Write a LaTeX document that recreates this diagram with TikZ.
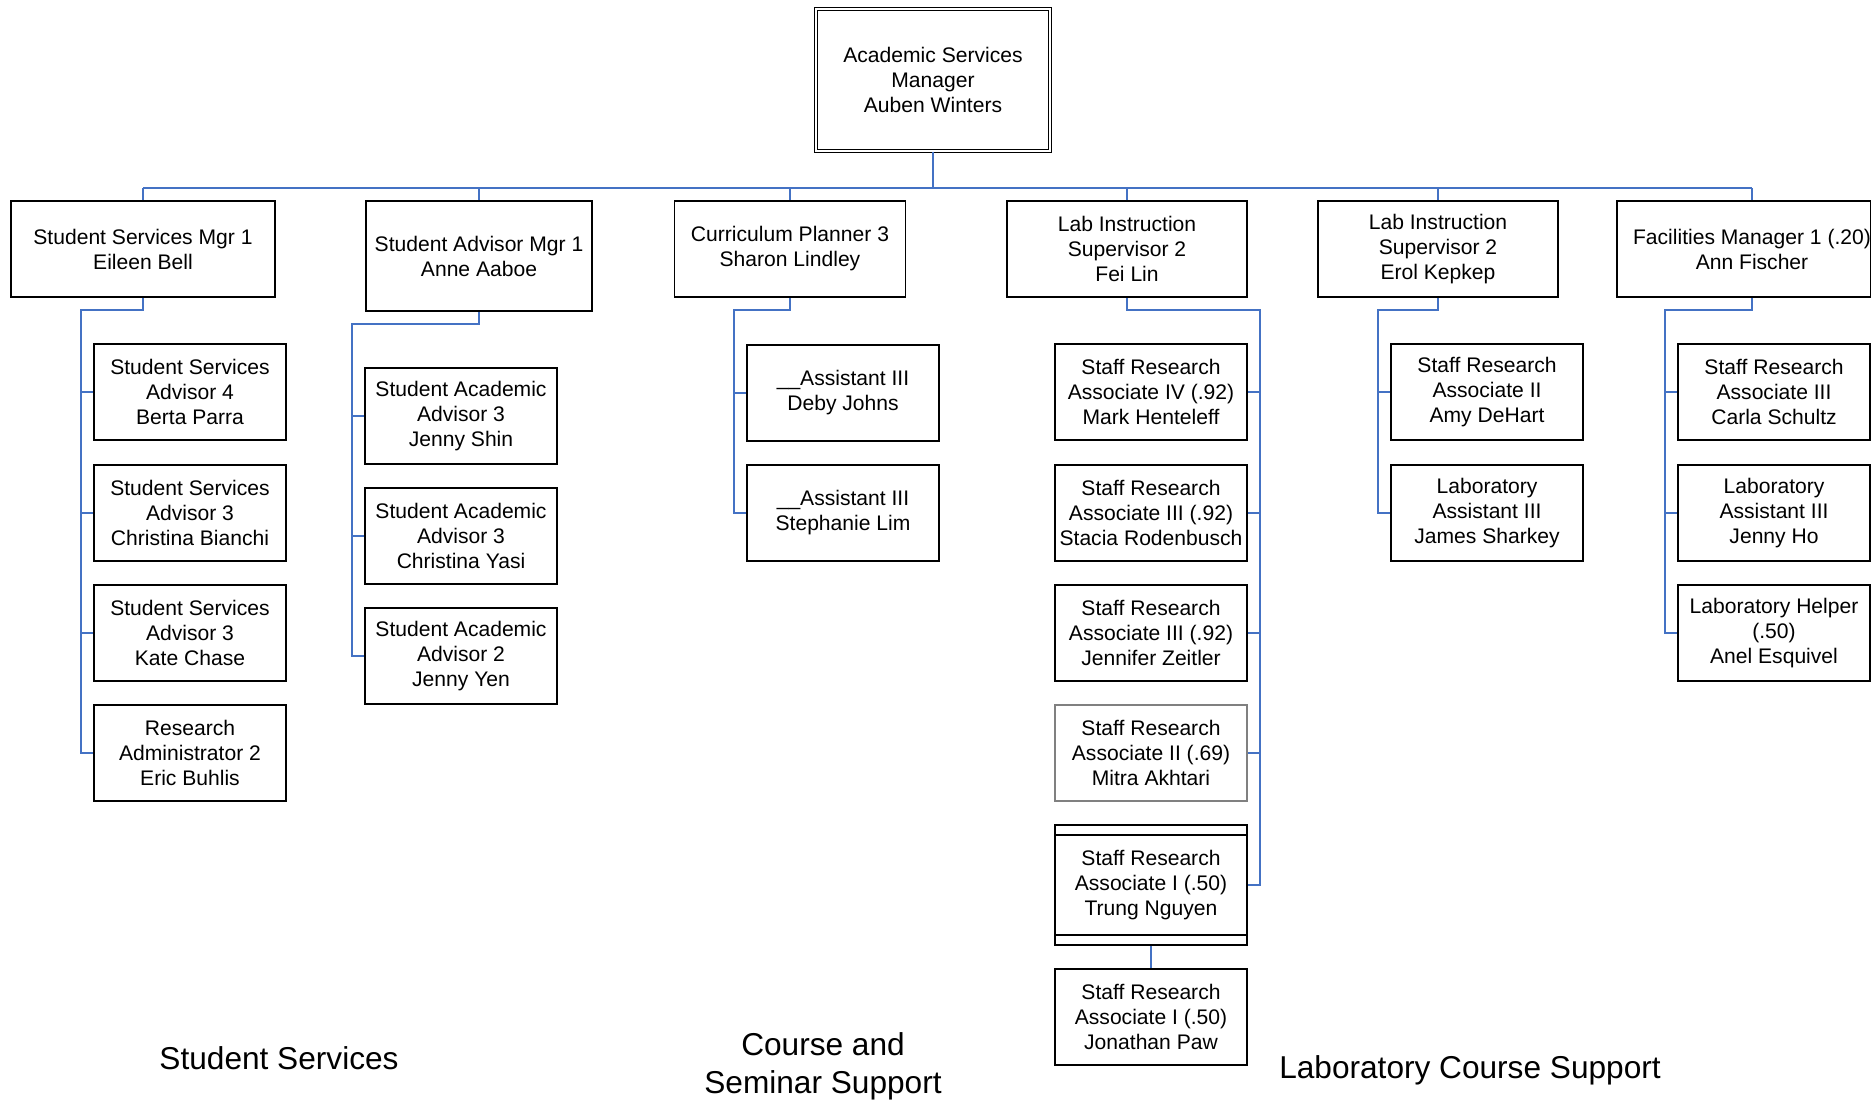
\documentclass[tikz,border=0pt]{standalone}
\usepackage{fontspec}
\setmainfont{Liberation Sans}
\usepackage{xcolor}
\usetikzlibrary{calc}
\definecolor{linkblue}{RGB}{68,114,196}
\newcommand{\boxfont}{\fontsize{12pt}{14.2pt}\selectfont}
\newcommand{\areafont}{\fontsize{18pt}{21.6pt}\selectfont}

\begin{document}
\begin{tikzpicture}[x=0.02cm, y=-0.02cm,
    box/.style={draw, line width=1pt, align=center, inner sep=0pt, font=\boxfont, minimum height=1.92cm},
    staff/.style={box, minimum width=3.84cm},
    link/.style={draw=linkblue, line width=1.1pt},
    area/.style={align=center, font=\areafont}]
    \useasboundingbox (0,0) rectangle (1871,1099);

    % Top box
    \node[box, double, line width=0.8pt, double distance=0.8pt, minimum width=4.68cm, minimum height=2.84cm] (asm) at (933,80) {Academic Services\\Manager\\Auben Winters};

    % Managers
    \node[box, minimum width=5.28cm] (ssm) at (143,249) {Student Services Mgr 1\\Eileen Bell};
    \node[box, minimum width=4.52cm, minimum height=2.2cm] (sam) at (479,256) {Student Advisor Mgr 1\\Anne Aaboe};
    \node[box, minimum width=4.62cm] (cpl) at (790,249) {Curriculum Planner 3\\Sharon Lindley};
    \node[box, minimum width=4.8cm] (lisa) at (1127,249) {Lab Instruction\\Supervisor 2\\Fei Lin};
    \node[box, minimum width=4.8cm] (lisb) at (1438,249) {Lab Instruction\\Supervisor 2\\Erol Kepkep};
    \node[box, minimum width=5.02cm] (fac) at (1744,249) {\hspace*{0.32cm}Facilities Manager 1 (.20)\\\hspace*{0.32cm}Ann Fischer};

    % Student services staff
    \node[staff] (ss1) at (190,392) {Student Services\\Advisor 4\\Berta Parra};
    \node[staff] (ss2) at (190,513) {Student Services\\Advisor 3\\Christina Bianchi};
    \node[staff] (ss3) at (190,633) {Student Services\\Advisor 3\\Kate Chase};
    \node[staff] (ss4) at (190,753) {Research\\Administrator 2\\Eric Buhlis};

    \node[staff] (sa1) at (461,416) {Student Academic\\Advisor 3\\Jenny Shin};
    \node[staff] (sa2) at (461,536) {Student Academic\\Advisor 3\\Christina Yasi};
    \node[staff] (sa3) at (461,656) {Student Academic\\Advisor 2\\Jenny Yen};

    % Curriculum staff
    \node[staff] (as1) at (843,393) {\_\_Assistant III\\Deby Johns};
    \node[staff] (as2) at (843,513) {\_\_Assistant III\\Stephanie Lim};

    % Lab staff
    \node[staff] (sr1) at (1151,392) {Staff Research\\Associate IV (.92)\\Mark Henteleff};
    \node[staff] (sr2) at (1151,513) {Staff Research\\Associate III (.92)\\Stacia Rodenbusch};
    \node[staff] (sr3) at (1151,633) {Staff Research\\Associate III (.92)\\Jennifer Zeitler};
    \node[staff, draw=gray] (sr4) at (1151,753) {Staff Research\\Associate II (.69)\\Mitra Akhtari};
    \node[staff, minimum height=2.4cm] (sr5) at (1151,885) {Staff Research\\Associate I (.50)\\Trung Nguyen};
    \node[staff] (sr6) at (1151,1017) {Staff Research\\Associate I (.50)\\Jonathan Paw};
    \draw[line width=1pt] ([yshift=-0.22cm]sr5.north west) -- ([yshift=-0.22cm]sr5.north east);
    \draw[line width=1pt] ([yshift=0.22cm]sr5.south west) -- ([yshift=0.22cm]sr5.south east);

    \node[staff] (lb1) at (1487,392) {Staff Research\\Associate II\\Amy DeHart};
    \node[staff] (lb2) at (1487,513) {Laboratory\\Assistant III\\James Sharkey};

    % Facilities staff
    \node[staff] (fa1) at (1774,392) {Staff Research\\Associate III\\Carla Schultz};
    \node[staff] (fa2) at (1774,513) {Laboratory\\Assistant III\\Jenny Ho};
    \node[staff] (fa3) at (1774,633) {Laboratory Helper\\(.50)\\Anel Esquivel};

    % Bus under the top box
    \coordinate (bus) at (933,188);
    \coordinate (facn) at ([xshift=0.16cm]fac.north);
    \draw[link] (asm.south) -- (bus);
    \draw[link] (ssm.north |- bus) -- (facn |- bus);
    \foreach \m in {ssm,sam,cpl,lisa,lisb,facn}
        \draw[link] (\m.north) -- (\m.north |- bus);

    % Branches on the left side
    \draw[link] (ssm.south) -- ++(0,12) -| ($(ss4.west)+(-12,0)$) -- (ss4.west);
    \foreach \s in {ss1,ss2,ss3} \draw[link] (\s.west) -- ++(-12,0);
    \draw[link] (sam.south) -- ++(0,12) -| ($(sa3.west)+(-12,0)$) -- (sa3.west);
    \foreach \s in {sa1,sa2} \draw[link] (\s.west) -- ++(-12,0);
    \draw[link] (cpl.south) -- ++(0,12) -| ($(as2.west)+(-12,0)$) -- (as2.west);
    \draw[link] (as1.west) -- ++(-12,0);
    \draw[link] (lisb.south) -- ++(0,12) -| ($(lb2.west)+(-12,0)$) -- (lb2.west);
    \draw[link] (lb1.west) -- ++(-12,0);
    \draw[link] ([xshift=0.16cm]fac.south) -- ++(0,12) -| ($(fa3.west)+(-12,0)$) -- (fa3.west);
    \foreach \s in {fa1,fa2} \draw[link] (\s.west) -- ++(-12,0);

    % Branch on the right side
    \draw[link] (lisa.south) -- ++(0,12) -| ($(sr5.east)+(12,0)$) -- (sr5.east);
    \foreach \s in {sr1,sr2,sr3,sr4} \draw[link] (\s.east) -- ++(12,0);
    \draw[link] (sr5.south) -- (sr6.north);

    % Area labels
    \node[area] (lss) at (279,1058) {Student Services};
    \node[area] (lcs) at (823,1066) {Course and\\Seminar Support};
    \node[area] (llc) at (1470,1070) {Laboratory Course Support};
\end{tikzpicture}
\end{document}
